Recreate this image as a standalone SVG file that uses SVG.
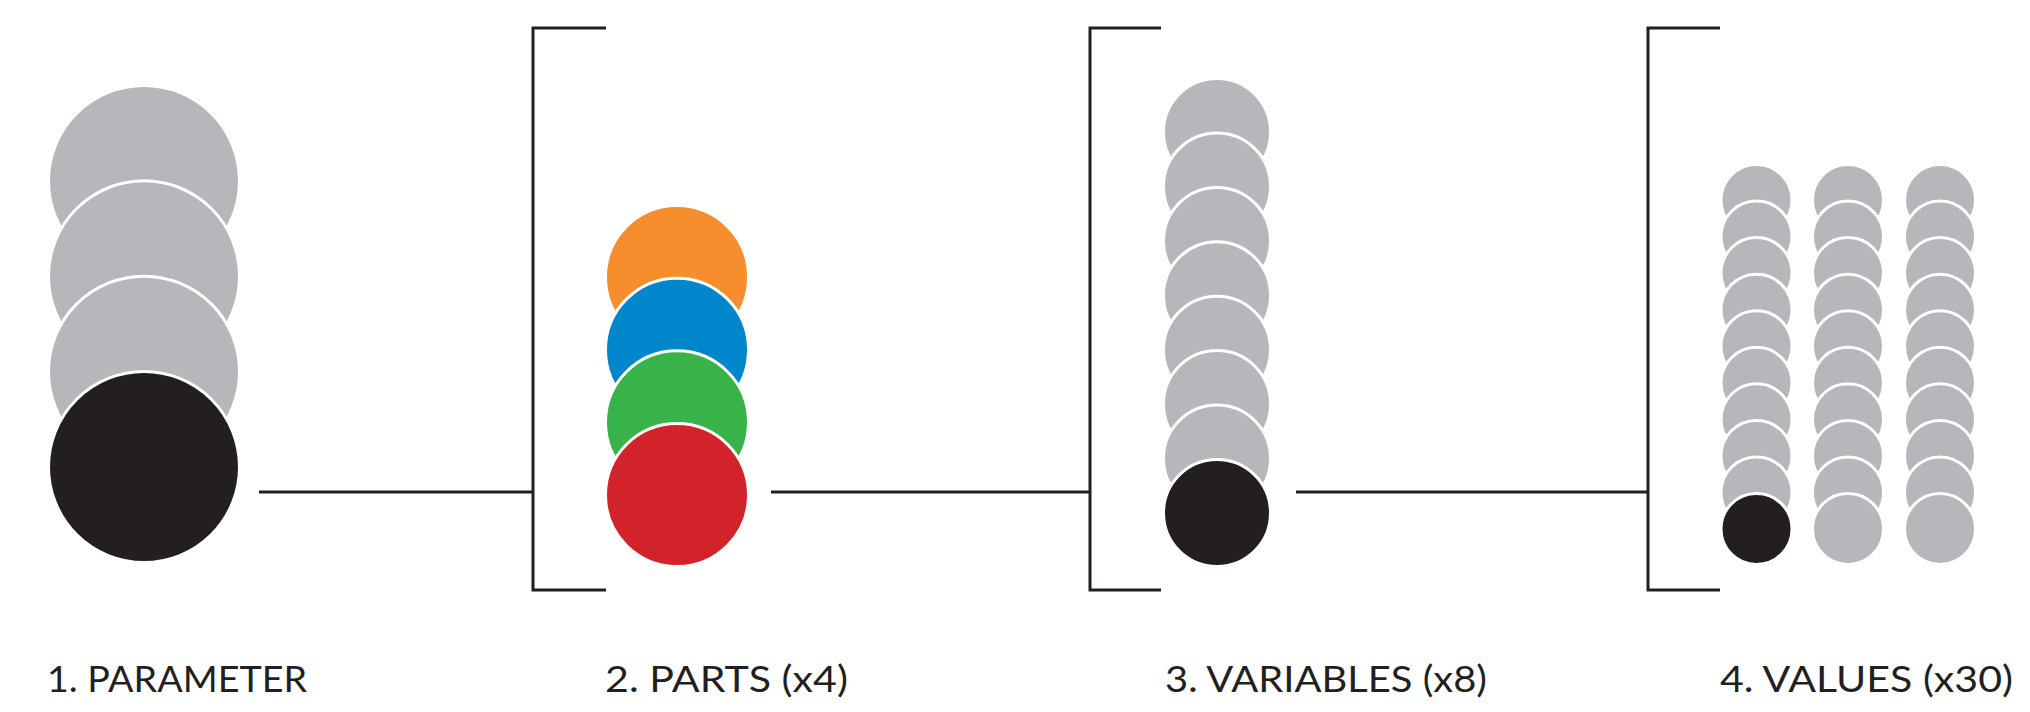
<svg xmlns="http://www.w3.org/2000/svg" xmlns:xlink="http://www.w3.org/1999/xlink" width="2030" height="712" viewBox="0 0 2030 712">
<style>
.g{fill:#b6b7ba;stroke:#fff;stroke-width:3}
.k{fill:#231f20;stroke:#fff;stroke-width:3}
.ln{fill:none;stroke:#231f20;stroke-width:3}
.lbl{font-family:"Lato","Liberation Sans",sans-serif;font-size:36px;fill:#231f20}
</style>
<rect width="2030" height="712" fill="#fff"/>
<g id="connectors">
<path class="ln" d="M259,492H533"/>
<path class="ln" d="M606,28H533V590H606"/>
<path class="ln" d="M771,492H1090"/>
<path class="ln" d="M1161,28H1090V590H1161"/>
<path class="ln" d="M1296,492H1648"/>
<path class="ln" d="M1720,28H1648V590H1720"/>
</g>
<g id="parameter">
<circle class="g" cx="144" cy="181" r="95.5"/>
<circle class="g" cx="144" cy="276.3" r="95.5"/>
<circle class="g" cx="144" cy="371.7" r="95.5"/>
<circle class="k" cx="144" cy="467" r="95.5"/>
<text class="lbl" x="47" y="692" textLength="260" lengthAdjust="spacingAndGlyphs">1. PARAMETER</text>
</g>
<g id="parts">
<circle cx="677" cy="277" r="71.5" fill="#f68e2d" stroke="#fff" stroke-width="3"/>
<circle cx="677" cy="349.7" r="71.5" fill="#0086ca" stroke="#fff" stroke-width="3"/>
<circle cx="677" cy="422.3" r="71.5" fill="#37b34a" stroke="#fff" stroke-width="3"/>
<circle cx="677" cy="495" r="71.5" fill="#d2232a" stroke="#fff" stroke-width="3"/>
<text class="lbl" x="605" y="692" textLength="243" lengthAdjust="spacingAndGlyphs">2. PARTS (x4)</text>
</g>
<g id="variables">
<circle class="g" cx="1217" cy="132" r="53.5"/>
<circle class="g" cx="1217" cy="186.4" r="53.5"/>
<circle class="g" cx="1217" cy="240.9" r="53.5"/>
<circle class="g" cx="1217" cy="295.3" r="53.5"/>
<circle class="g" cx="1217" cy="349.7" r="53.5"/>
<circle class="g" cx="1217" cy="404.1" r="53.5"/>
<circle class="g" cx="1217" cy="458.6" r="53.5"/>
<circle class="k" cx="1217" cy="513" r="53.5"/>
<text class="lbl" x="1165" y="692" textLength="322" lengthAdjust="spacingAndGlyphs">3. VARIABLES (x8)</text>
</g>
<g id="values">
<g id="col1">
<circle class="g" cx="1756.5" cy="200" r="35.5"/>
<circle class="g" cx="1756.5" cy="236.6" r="35.5"/>
<circle class="g" cx="1756.5" cy="273.1" r="35.5"/>
<circle class="g" cx="1756.5" cy="309.7" r="35.5"/>
<circle class="g" cx="1756.5" cy="346.2" r="35.5"/>
<circle class="g" cx="1756.5" cy="382.8" r="35.5"/>
<circle class="g" cx="1756.5" cy="419.3" r="35.5"/>
<circle class="g" cx="1756.5" cy="455.9" r="35.5"/>
<circle class="g" cx="1756.5" cy="492.4" r="35.5"/>
<circle class="k" cx="1756.5" cy="529" r="35.5"/>
</g>
<g id="col2">
<circle class="g" cx="1848" cy="200" r="35.5"/>
<circle class="g" cx="1848" cy="236.6" r="35.5"/>
<circle class="g" cx="1848" cy="273.1" r="35.5"/>
<circle class="g" cx="1848" cy="309.7" r="35.5"/>
<circle class="g" cx="1848" cy="346.2" r="35.5"/>
<circle class="g" cx="1848" cy="382.8" r="35.5"/>
<circle class="g" cx="1848" cy="419.3" r="35.5"/>
<circle class="g" cx="1848" cy="455.9" r="35.5"/>
<circle class="g" cx="1848" cy="492.4" r="35.5"/>
<circle class="g" cx="1848" cy="529" r="35.5"/>
</g>
<g id="col3">
<circle class="g" cx="1940" cy="200" r="35.5"/>
<circle class="g" cx="1940" cy="236.6" r="35.5"/>
<circle class="g" cx="1940" cy="273.1" r="35.5"/>
<circle class="g" cx="1940" cy="309.7" r="35.5"/>
<circle class="g" cx="1940" cy="346.2" r="35.5"/>
<circle class="g" cx="1940" cy="382.8" r="35.5"/>
<circle class="g" cx="1940" cy="419.3" r="35.5"/>
<circle class="g" cx="1940" cy="455.9" r="35.5"/>
<circle class="g" cx="1940" cy="492.4" r="35.5"/>
<circle class="g" cx="1940" cy="529" r="35.5"/>
</g>
<text class="lbl" x="1720" y="692" textLength="293" lengthAdjust="spacingAndGlyphs">4. VALUES (x30)</text>
</g>
</svg>
